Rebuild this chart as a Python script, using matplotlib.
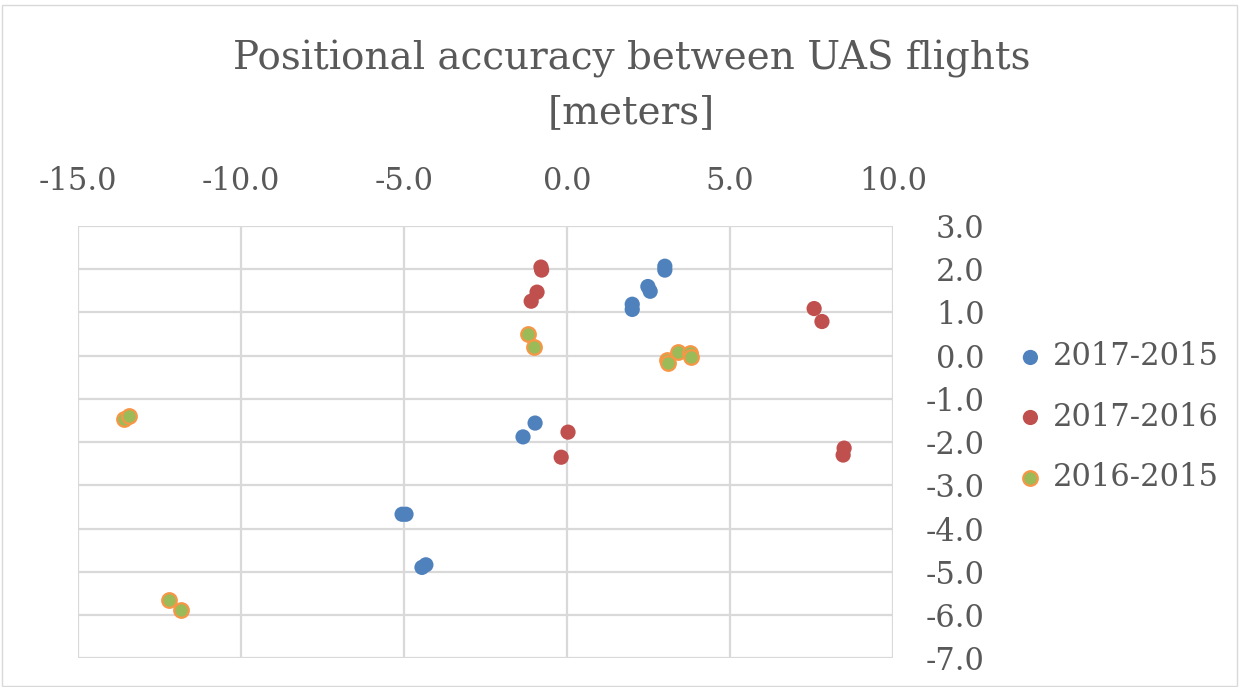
# Excel-style scatter: positional offsets between UAS flights.
import matplotlib
matplotlib.use("Agg")
import matplotlib.pyplot as plt
from matplotlib.patches import Rectangle

# dx / dy per flight pair
x_17_15 = [3.0, 3.0, 2.48, 2.55, 2.0, 2.0, -0.98, -1.35, -5.06, -4.94, -4.33, -4.45]
y_17_15 = [2.07, 1.98, 1.6, 1.49, 1.19, 1.07, -1.56, -1.88, -3.67, -3.67, -4.84, -4.9]

x_17_16 = [-0.8, -0.78, -0.92, -1.1, 0.03, -0.18, 7.58, 7.82, 8.5, 8.47]
y_17_16 = [2.05, 1.98, 1.47, 1.26, -1.77, -2.35, 1.09, 0.79, -2.14, -2.3]

x_16_15 = [-1.2, -1.01, 3.07, 3.1, 3.4, 3.77, 3.8, -13.6, -13.43, -12.2, -11.84]
y_16_15 = [0.51, 0.21, -0.09, -0.16, 0.09, 0.07, -0.02, -1.47, -1.4, -5.65, -5.88]

x_ticks = [-15, -10, -5, 0, 5, 10]
y_ticks = [3, 2, 1, 0, -1, -2, -3, -4, -5, -6, -7]

GREY = "#595959"
FONT = "DejaVu Serif"

fig = plt.figure(figsize=(12.41, 6.87), dpi=100)
fig.add_artist(Rectangle((0.002, 0.002), 0.995, 0.99, transform=fig.transFigure,
                         fill=False, edgecolor="#d9d9d9", linewidth=1))
ax = fig.add_axes([0.0629, 0.042, 0.6567, 0.629])

ax.scatter(x_17_15, y_17_15, s=120, color="#4f81bd", edgecolors="none",
           label="2017-2015", zorder=3)
ax.scatter(x_17_16, y_17_16, s=120, color="#c0504d", edgecolors="none",
           label="2017-2016", zorder=3)
ax.scatter(x_16_15, y_16_15, s=110, color="#9bbb59", edgecolors="#f79646",
           linewidths=1.6, label="2016-2015", zorder=3)

ax.set_xlim(-15, 10)
ax.set_ylim(-7, 3)
ax.set_xticks(x_ticks)
ax.set_yticks(y_ticks)
ax.set_xticklabels([f"{v:.1f}" for v in x_ticks])
ax.set_yticklabels([f"{v:.1f}" for v in y_ticks])
ax.xaxis.tick_top()
ax.yaxis.tick_right()
ax.tick_params(axis="both", length=0, labelsize=22, labelcolor=GREY)
ax.tick_params(axis="x", pad=21)
ax.tick_params(axis="y", pad=66)
for lab in ax.get_yticklabels():
    lab.set_horizontalalignment("right")
for lab in ax.get_xticklabels() + ax.get_yticklabels():
    lab.set_fontfamily(FONT)

ax.grid(True, color="#d9d9d9", linewidth=1.6)
ax.set_axisbelow(True)
for sp in ax.spines.values():
    sp.set_visible(False)

fig.text(0.509, 0.876, "Positional accuracy between UAS flights\n[meters]",
         ha="center", va="center", fontsize=28, color=GREY, family=FONT,
         linespacing=1.55)

leg = fig.legend(loc="center left", bbox_to_anchor=(0.818, 0.393), frameon=False,
                 prop={"family": FONT, "size": 22}, handlelength=1.0,
                 handletextpad=0.25, labelspacing=0.95, markerscale=1.0,
                 borderpad=0, borderaxespad=0)
for t in leg.get_texts():
    t.set_color(GREY)

fig.savefig("out.png", dpi=100)
